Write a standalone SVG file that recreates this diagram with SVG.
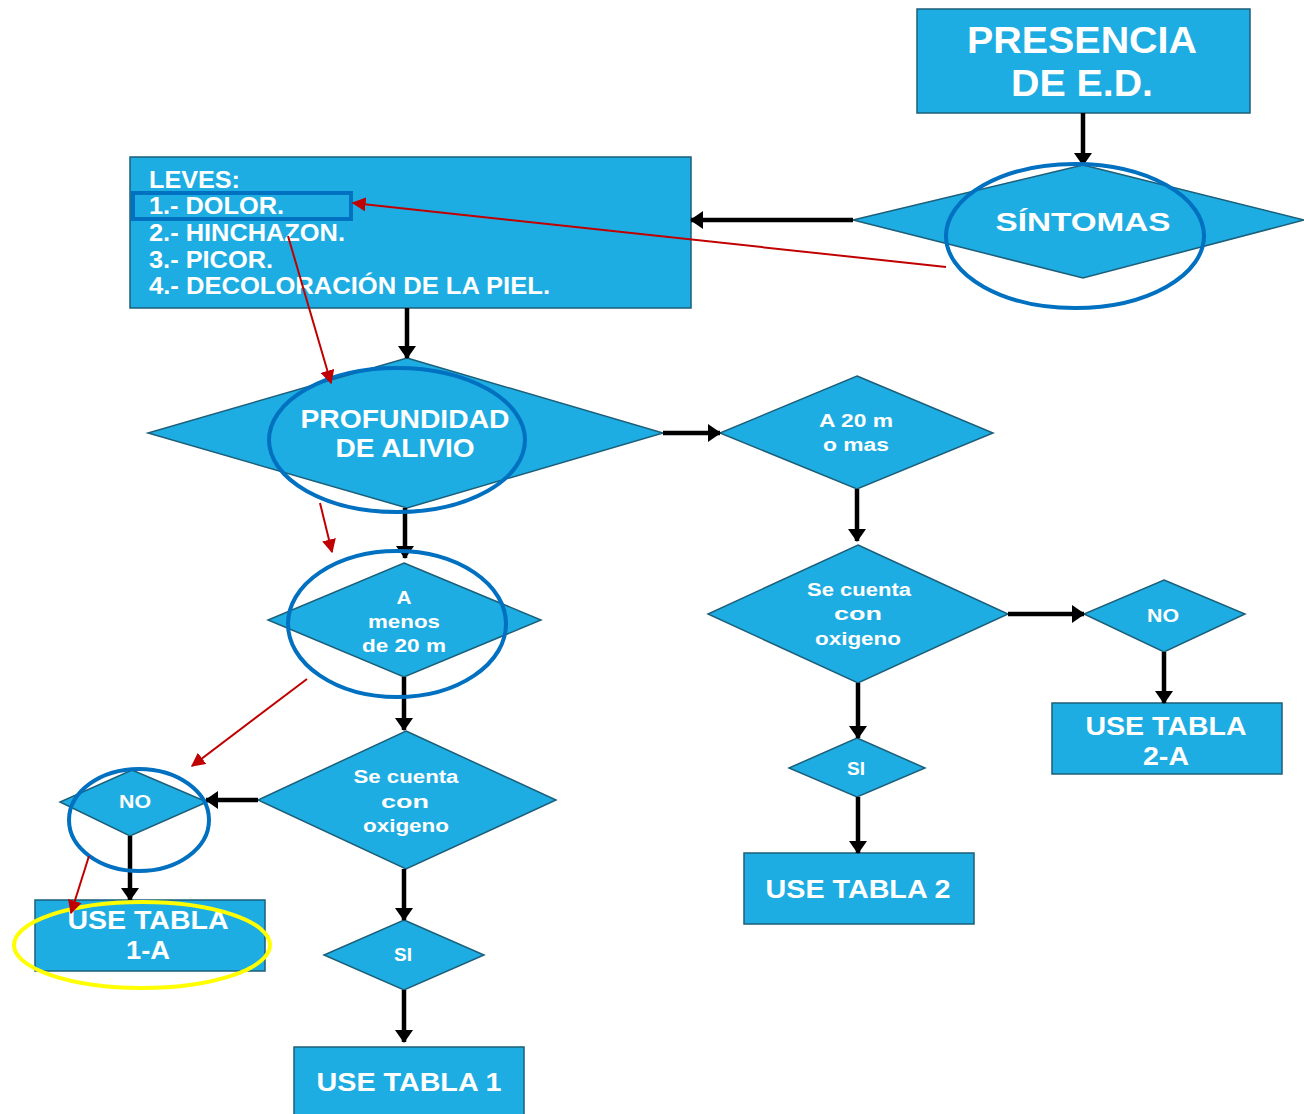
<svg xmlns="http://www.w3.org/2000/svg" width="1304" height="1114" viewBox="0 0 1304 1114">
<defs>
<style>
.n{fill:#1eade2;stroke:#1c5f7a;stroke-width:1.5}
.t{fill:#ffffff;font-family:"Liberation Sans",Arial,sans-serif;font-weight:bold;text-anchor:middle}
.tl{fill:#ffffff;font-family:"Liberation Sans",Arial,sans-serif;font-weight:bold;font-size:24px}
.c{stroke:#000;stroke-width:4.5;fill:none;marker-end:url(#ah)}
.r{stroke:#c00000;stroke-width:2;fill:none;marker-end:url(#rh)}
.e{fill:none;stroke:#0070c0;stroke-width:4}
.y{fill:none;stroke:#ffff00;stroke-width:4}
</style>
<marker id="ah" viewBox="0 0 13 18" refX="12" refY="9" markerWidth="13" markerHeight="18" markerUnits="userSpaceOnUse" orient="auto"><path d="M0,0 L13,9 L0,18 z" fill="#000"/></marker>
<marker id="rh" viewBox="0 0 10 10" refX="9" refY="5" markerWidth="14" markerHeight="14" markerUnits="userSpaceOnUse" orient="auto"><path d="M0,0 L10,5 L0,10 z" fill="#c00000"/></marker>
</defs>
<rect width="1304" height="1114" fill="#ffffff"/>

<g id="presencia">
<rect class="n" x="917" y="9" width="333" height="104"/>
<text class="t" x="1082" y="53" font-size="36" textLength="230" lengthAdjust="spacingAndGlyphs">PRESENCIA</text>
<text class="t" x="1082" y="96" font-size="36" textLength="142" lengthAdjust="spacingAndGlyphs">DE E.D.</text>
</g>

<g id="sintomas">
<polygon class="n" points="1083,165 1304,220 1083,278 853,220"/>
<text class="t" x="1083" y="231" font-size="26" textLength="175" lengthAdjust="spacingAndGlyphs">SÍNTOMAS</text>
</g>

<g id="leves">
<rect class="n" x="130" y="157" width="561" height="151"/>
<text class="tl" x="149" y="188" textLength="91" lengthAdjust="spacingAndGlyphs">LEVES:</text>
<text class="tl" x="149" y="214" textLength="135" lengthAdjust="spacingAndGlyphs">1.- DOLOR.</text>
<text class="tl" x="149" y="241" textLength="196" lengthAdjust="spacingAndGlyphs">2.- HINCHAZON.</text>
<text class="tl" x="149" y="268" textLength="124" lengthAdjust="spacingAndGlyphs">3.- PICOR.</text>
<text class="tl" x="149" y="294" textLength="401" lengthAdjust="spacingAndGlyphs">4.- DECOLORACIÓN DE LA PIEL.</text>
</g>

<g id="profundidad">
<polygon class="n" points="407,358 663,433 407,508 148,433"/>
<text class="t" x="405" y="428" font-size="26" textLength="209" lengthAdjust="spacingAndGlyphs">PROFUNDIDAD</text>
<text class="t" x="405" y="457" font-size="26" textLength="139" lengthAdjust="spacingAndGlyphs">DE ALIVIO</text>
</g>

<g id="a20mas">
<polygon class="n" points="857,376 993,433 857,489 720,433"/>
<text class="t" x="856" y="427" font-size="18" textLength="74" lengthAdjust="spacingAndGlyphs">A 20 m</text>
<text class="t" x="856" y="451" font-size="18" textLength="66" lengthAdjust="spacingAndGlyphs">o mas</text>
</g>

<g id="oxigeno-der">
<polygon class="n" points="858,545 1008,614 858,683 708,614"/>
<text class="t" x="859" y="596" font-size="18" textLength="104" lengthAdjust="spacingAndGlyphs">Se cuenta</text>
<text class="t" x="858" y="620" font-size="18" textLength="48" lengthAdjust="spacingAndGlyphs">con</text>
<text class="t" x="858" y="645" font-size="18" textLength="86" lengthAdjust="spacingAndGlyphs">oxigeno</text>
</g>

<g id="no-der">
<polygon class="n" points="1164,580 1245,614 1164,652 1084,614"/>
<text class="t" x="1163" y="622" font-size="18" textLength="32" lengthAdjust="spacingAndGlyphs">NO</text>
</g>

<g id="tabla2a">
<rect class="n" x="1052" y="703" width="230" height="71"/>
<text class="t" x="1166" y="735" font-size="25" textLength="161" lengthAdjust="spacingAndGlyphs">USE TABLA</text>
<text class="t" x="1166" y="765" font-size="25" textLength="46" lengthAdjust="spacingAndGlyphs">2-A</text>
</g>

<g id="si-der">
<polygon class="n" points="857,738 925,768 857,797 789,768"/>
<text class="t" x="856" y="775" font-size="18" textLength="18" lengthAdjust="spacingAndGlyphs">SI</text>
</g>

<g id="tabla2">
<rect class="n" x="744" y="853" width="230" height="71"/>
<text class="t" x="858" y="898" font-size="25" textLength="185" lengthAdjust="spacingAndGlyphs">USE TABLA 2</text>
</g>

<g id="amenos20">
<polygon class="n" points="404,563 541,620 404,677 268,620"/>
<text class="t" x="404" y="604" font-size="18" textLength="15" lengthAdjust="spacingAndGlyphs">A</text>
<text class="t" x="404" y="628" font-size="18" textLength="72" lengthAdjust="spacingAndGlyphs">menos</text>
<text class="t" x="404" y="652" font-size="18" textLength="84" lengthAdjust="spacingAndGlyphs">de 20 m</text>
</g>

<g id="oxigeno-izq">
<polygon class="n" points="406,731 556,800 406,869 258,800"/>
<text class="t" x="406" y="783" font-size="18" textLength="105" lengthAdjust="spacingAndGlyphs">Se cuenta</text>
<text class="t" x="405" y="808" font-size="18" textLength="48" lengthAdjust="spacingAndGlyphs">con</text>
<text class="t" x="406" y="832" font-size="18" textLength="86" lengthAdjust="spacingAndGlyphs">oxigeno</text>
</g>

<g id="no-izq">
<polygon class="n" points="132,770 207,802 130,836 60,802"/>
<text class="t" x="135" y="808" font-size="18" textLength="32" lengthAdjust="spacingAndGlyphs">NO</text>
</g>

<g id="tabla1a">
<rect class="n" x="35" y="900" width="230" height="71"/>
<text class="t" x="148" y="929" font-size="25" textLength="161" lengthAdjust="spacingAndGlyphs">USE TABLA</text>
<text class="t" x="148" y="959" font-size="25" textLength="44" lengthAdjust="spacingAndGlyphs">1-A</text>
</g>

<g id="si-izq">
<polygon class="n" points="404,920 484,955 404,990 324,955"/>
<text class="t" x="403" y="961" font-size="18" textLength="18" lengthAdjust="spacingAndGlyphs">SI</text>
</g>

<g id="tabla1">
<rect class="n" x="294" y="1047" width="230" height="80"/>
<text class="t" x="409" y="1091" font-size="25" textLength="185" lengthAdjust="spacingAndGlyphs">USE TABLA 1</text>
</g>

<g id="connectors">
<line class="c" x1="1083" y1="113" x2="1083" y2="165"/>
<line class="c" x1="853" y1="220" x2="691" y2="220"/>
<line class="c" x1="407" y1="308" x2="407" y2="358"/>
<line class="c" x1="663" y1="433" x2="720" y2="433"/>
<line class="c" x1="857" y1="489" x2="857" y2="541"/>
<line class="c" x1="1008" y1="614" x2="1084" y2="614"/>
<line class="c" x1="1164" y1="652" x2="1164" y2="703"/>
<line class="c" x1="858" y1="683" x2="858" y2="738"/>
<line class="c" x1="858" y1="797" x2="858" y2="853"/>
<line class="c" x1="405" y1="508" x2="405" y2="558"/>
<line class="c" x1="404" y1="677" x2="404" y2="730"/>
<line class="c" x1="258" y1="800" x2="206" y2="800"/>
<line class="c" x1="130" y1="836" x2="130" y2="900"/>
<line class="c" x1="404" y1="869" x2="404" y2="920"/>
<line class="c" x1="404" y1="990" x2="404" y2="1042"/>
</g>

<g id="annotations">
<rect x="133" y="193" width="218" height="26" fill="none" stroke="#0070c0" stroke-width="4"/>
<ellipse class="e" cx="1075" cy="236" rx="129" ry="72"/>
<ellipse class="e" cx="397" cy="440" rx="128" ry="72"/>
<ellipse class="e" cx="397" cy="624" rx="109" ry="73"/>
<ellipse class="e" cx="139" cy="820" rx="70" ry="51"/>
<ellipse class="y" cx="142" cy="945" rx="128" ry="43"/>
</g>

<g id="red-arrows">
<line class="r" x1="946" y1="267" x2="353" y2="203"/>
<line class="r" x1="288" y1="236" x2="331" y2="383"/>
<line class="r" x1="320" y1="503" x2="332" y2="552"/>
<line class="r" x1="307" y1="679" x2="192" y2="766"/>
<line class="r" x1="89" y1="856" x2="71" y2="913"/>
</g>
</svg>
